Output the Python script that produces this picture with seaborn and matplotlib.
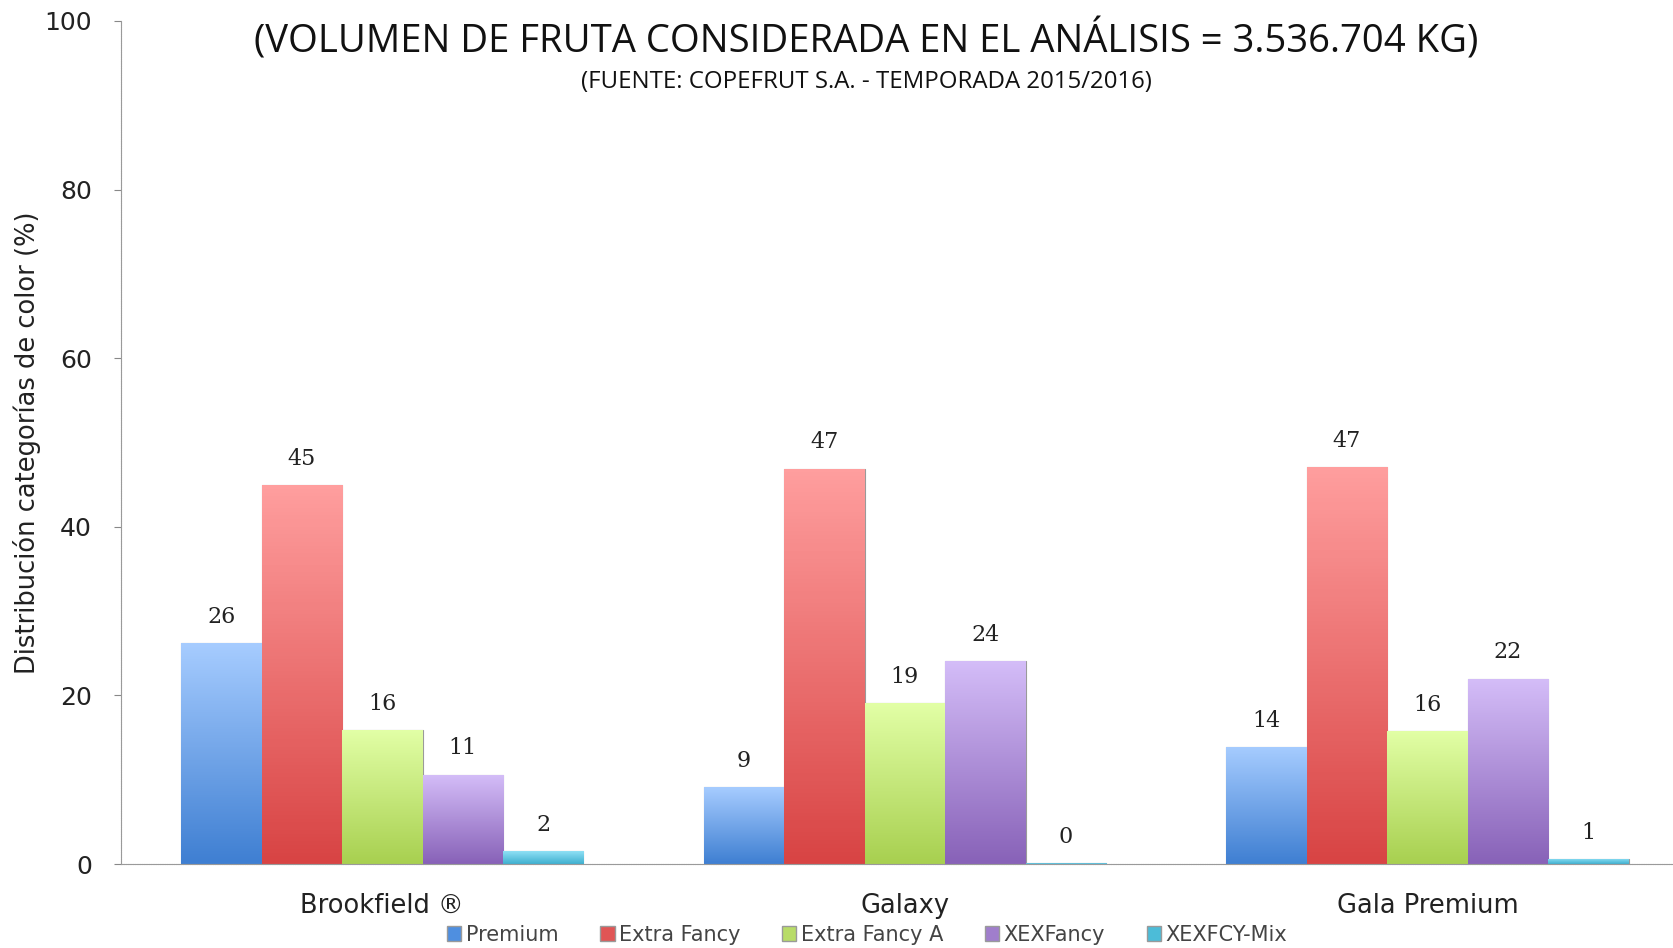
import numpy as np
import pandas as pd
import matplotlib
matplotlib.use("Agg")
import matplotlib.pyplot as plt
from matplotlib.colors import LinearSegmentedColormap
from matplotlib.patches import Patch
import seaborn as sns

varieties = ["Brookfield ®", "Galaxy", "Gala Premium"]
categories = ["Premium", "Extra Fancy", "Extra Fancy A", "XEXFancy", "XEXFCY-Mix"]
premium = [26.2, 9.1, 13.9]
extra_fancy = [44.9, 46.9, 47.1]
extra_fancy_a = [15.9, 19.1, 15.8]
xexfancy = [10.6, 24.1, 22.0]
xexfcy_mix = [1.5, 0.1, 0.6]
labels = {
    "Premium": ["26", "9", "14"],
    "Extra Fancy": ["45", "47", "47"],
    "Extra Fancy A": ["16", "19", "16"],
    "XEXFancy": ["11", "24", "22"],
    "XEXFCY-Mix": ["2", "0", "1"],
}
title = "(VOLUMEN DE FRUTA CONSIDERADA EN EL ANÁLISIS = 3.536.704 KG)"
subtitle = "(FUENTE: COPEFRUT S.A. - TEMPORADA 2015/2016)"
ylabel = "Distribución categorías de color (%)"

base_colors = ["#4f8fe0", "#e05555", "#b8dc68", "#a07ecc", "#4cbcd8"]
grad = {
    "Premium": ("#a6ccff", "#3f7fd2"),
    "Extra Fancy": ("#ff9e9e", "#d84444"),
    "Extra Fancy A": ("#e2ffa6", "#a8d050"),
    "XEXFancy": ("#d4bdf8", "#8862b8"),
    "XEXFCY-Mix": ("#8fe0f5", "#3fb0d0"),
}

df = pd.DataFrame({
    "variety": np.repeat(varieties, len(categories)),
    "category": categories * len(varieties),
    "value": [v for trio in zip(premium, extra_fancy, extra_fancy_a, xexfancy, xexfcy_mix) for v in trio],
})

sns.set_theme(style="white")
plt.rcParams["font.family"] = ["DejaVu Sans"]
narrow = "Open Sans"

fig = plt.figure(figsize=(16.73, 9.48), dpi=100)
ax = fig.add_axes([121 / 1673, 84 / 948, (1673 - 121) / 1673, (864 - 21) / 948])

sns.barplot(data=df, x="variety", y="value", hue="category", order=varieties,
            hue_order=categories, palette=base_colors, width=0.77, ax=ax,
            legend=False, errorbar=None, saturation=1)

ax.set_xlim(-0.5, 2.47)
ax.set_ylim(0, 100)

for cont, cat in zip(ax.containers, categories):
    top, bottom = grad[cat]
    cmap = LinearSegmentedColormap.from_list(cat, [bottom, top])
    for bar, lab in zip(cont, labels[cat]):
        x, w, h = bar.get_x(), bar.get_width(), bar.get_height()
        bar.set_edgecolor("#9a9a9a")
        bar.set_linewidth(0.8)
        g = np.linspace(0, 1, 100).reshape(-1, 1)
        im = ax.imshow(g, extent=[x, x + w, 0, max(h, 0.05)], origin="lower",
                       aspect="auto", cmap=cmap, zorder=bar.get_zorder() + 0.1)
        im.set_clip_path(bar)
        ax.text(x + w / 2, h + 1.8, lab, ha="center", va="bottom",
                fontsize=16, family="DejaVu Serif", color="#222222")

ax.set_xlim(-0.5, 2.47)
ax.set_ylim(0, 100)
ax.set_yticks([0, 20, 40, 60, 80, 100])
ax.tick_params(axis="y", labelsize=18, length=5, width=0.8, color="#888888",
               left=True, pad=16, labelcolor="#222222")
ax.tick_params(axis="x", labelsize=18.5, length=0, pad=21, labelcolor="#222222")
ax.set_xlabel("")
ax.set_ylabel(ylabel, fontsize=18.5, color="#222222", labelpad=2)
for s in ["top", "right"]:
    ax.spines[s].set_visible(False)
for s in ["left", "bottom"]:
    ax.spines[s].set_color("#9a9a9a")
    ax.spines[s].set_linewidth(0.8)
    ax.spines[s].set_linestyle((0, (1, 0.6)))

fig.text(866 / 1673, 1 - 40 / 948, title, ha="center", va="center",
         fontsize=27.5, family=narrow, color="#111111")
fig.text(866 / 1673, 1 - 82 / 948, subtitle, ha="center", va="center",
         fontsize=17.3, family=narrow, color="#111111")

handles = [Patch(facecolor=c, edgecolor="#9a9a9a") for c in base_colors]
fig.legend(handles, categories, loc="center", bbox_to_anchor=(867 / 1673, 13 / 948),
           ncol=5, frameon=False, fontsize=15, handlelength=0.7, handleheight=0.7,
           handletextpad=0.2, columnspacing=2.0, labelcolor="#444444")

fig.savefig("out.png", dpi=100)
